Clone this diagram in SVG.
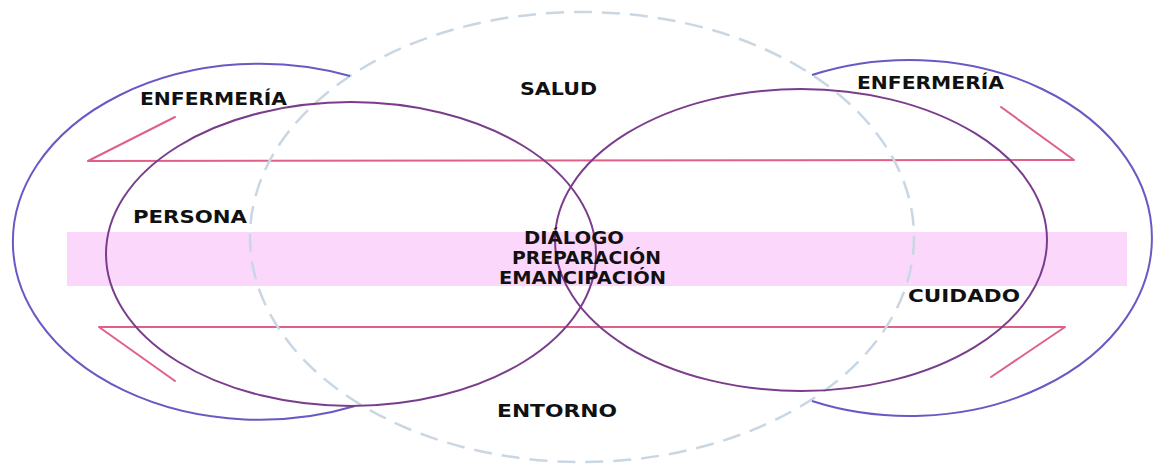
<svg xmlns="http://www.w3.org/2000/svg" width="1154" height="464" viewBox="0 0 1154 464">
<style>
.outer{fill:none;stroke:#6a58c4;stroke-width:2}
.inner{fill:none;stroke:#7a3d8c;stroke-width:2}
.pink{fill:none;stroke:#e0608a;stroke-width:2;stroke-linecap:round;stroke-linejoin:round}
.dash{fill:none;stroke:#c9d7e4;stroke-width:2.5;stroke-dasharray:18 10}
.lbl{font-family:"DejaVu Sans",Verdana,sans-serif;font-weight:bold;font-size:17.5px;fill:#111}
</style>
<rect width="1154" height="464" fill="#ffffff"/>
<g id="band">
<rect x="67" y="232" width="1060" height="54" fill="#fbd8fb"/>
</g>
<g id="connectors">
<path class="pink" d="M175 117 L88 161 L1074 160 L1001 107"/>
<path class="pink" d="M175 381 L99 327 L1065 327 L991 377"/>
</g>
<g id="salud-entorno">
<ellipse class="dash" cx="582" cy="237" rx="332" ry="225"/>
</g>
<g id="enfermeria-left">
<path class="outer" d="M350 76 A247 178 0 1 0 355 406"/>
</g>
<g id="enfermeria-right">
<path class="outer" d="M812 75 A242.5 178 0 1 1 812 401"/>
</g>
<g id="persona">
<ellipse class="inner" cx="351" cy="254" rx="245" ry="152"/>
</g>
<g id="cuidado">
<ellipse class="inner" cx="801" cy="240" rx="246" ry="151"/>
</g>
<g id="labels">
<text class="lbl" x="140" y="105" textLength="147" lengthAdjust="spacingAndGlyphs">ENFERMERÍA</text>
<text class="lbl" x="857" y="89" textLength="147" lengthAdjust="spacingAndGlyphs">ENFERMERÍA</text>
<text class="lbl" x="520" y="95" textLength="77" lengthAdjust="spacingAndGlyphs">SALUD</text>
<text class="lbl" x="133" y="223" textLength="114" lengthAdjust="spacingAndGlyphs">PERSONA</text>
<text class="lbl" x="524" y="244" textLength="100" lengthAdjust="spacingAndGlyphs">DIÁLOGO</text>
<text class="lbl" x="512" y="264" textLength="149" lengthAdjust="spacingAndGlyphs">PREPARACIÓN</text>
<text class="lbl" x="499" y="284" textLength="167" lengthAdjust="spacingAndGlyphs">EMANCIPACIÓN</text>
<text class="lbl" x="908" y="302" textLength="112" lengthAdjust="spacingAndGlyphs">CUIDADO</text>
<text class="lbl" x="497" y="417" textLength="120" lengthAdjust="spacingAndGlyphs">ENTORNO</text>
</g>
</svg>
